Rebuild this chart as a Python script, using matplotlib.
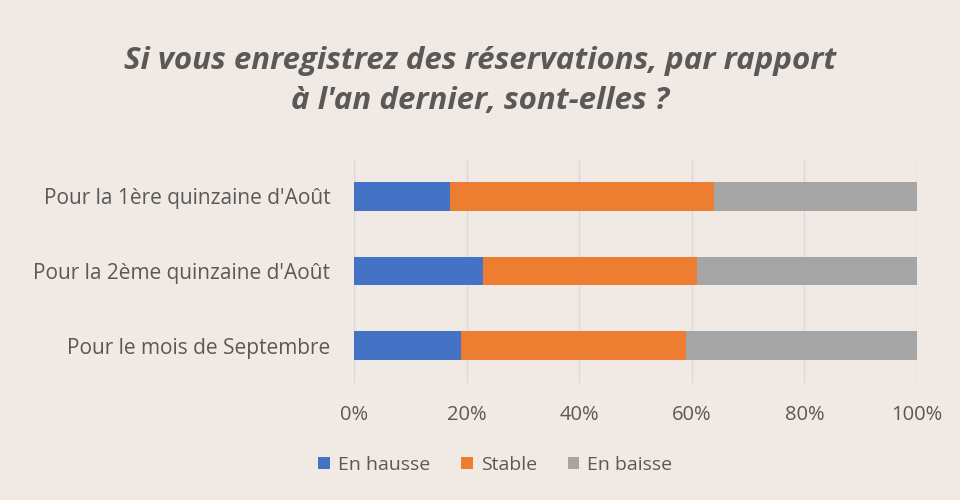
import matplotlib.pyplot as plt
import numpy as np

categories = ["Pour la 1ère quinzaine d'Août", "Pour la 2ème quinzaine d'Août", "Pour le mois de Septembre"]
en_hausse = [17, 23, 19]
stable = [47, 38, 40]
en_baisse = [36, 39, 41]
series_names = ["En hausse", "Stable", "En baisse"]
colors = ["#4472C4", "#ED7D31", "#A5A5A5"]

bg = "#F1E9E3"
txt = "#595959"

plt.rcParams["font.family"] = ["Open Sans", "DejaVu Sans"]

fig = plt.figure(figsize=(9.6, 5), dpi=100, facecolor=bg)
ax = fig.add_axes([354 / 960, 1 - 383 / 500, (917 - 354) / 960, (383 - 159) / 500])
ax.set_facecolor(bg)

y = np.arange(len(categories))
left = np.zeros(len(categories))
for vals, name, c in zip([en_hausse, stable, en_baisse], series_names, colors):
    ax.barh(y, vals, left=left, height=0.38, color=c, label=name, zorder=3)
    left += np.array(vals)

ax.set_xlim(0, 100)
ax.set_ylim(2.5, -0.5)
ax.set_yticks(y)
ax.set_yticklabels(categories, fontsize=15, color=txt)
ax.set_xticks(np.arange(0, 101, 20))
ax.set_xticklabels([f"{v}%" for v in range(0, 101, 20)], fontsize=14.5, color=txt)
ax.tick_params(length=0)
ax.tick_params(axis="x", pad=16)
ax.tick_params(axis="y", pad=17)
ax.grid(axis="x", color="#D9D9D9", linewidth=1, zorder=0)
for s in ax.spines.values():
    s.set_visible(False)

fig.text(0.5, 0.838, "Si vous enregistrez des réservations, par rapport\nà l'an dernier, sont-elles ?",
         ha="center", va="center", fontsize=22.5, fontweight="bold", fontstyle="italic",
         color=txt, linespacing=1.45)

fig.legend(loc="center", bbox_to_anchor=(0.516, 0.07), ncol=3, frameon=False,
           fontsize=14, labelcolor=txt, handlelength=0.6, handleheight=0.6,
           handletextpad=0.4, columnspacing=1.6)

fig.savefig("out.png", dpi=100, facecolor=bg)
